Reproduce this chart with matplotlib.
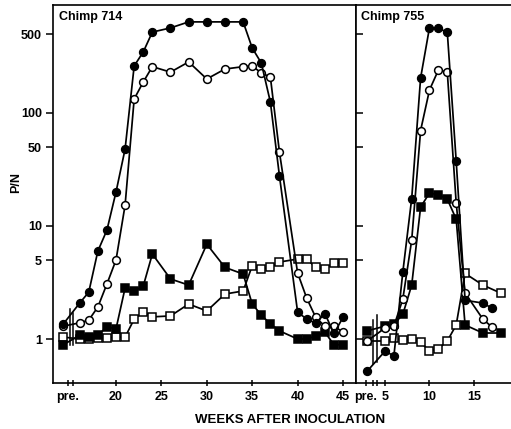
import matplotlib
matplotlib.use("Agg")
import matplotlib.pyplot as plt

plt.rcParams['font.family'] = ['Liberation Sans', 'DejaVu Sans']
plt.rcParams['font.weight'] = 'bold'
plt.rcParams['ytick.right'] = False
plt.rcParams['xtick.top'] = False

# ---------------- data ----------------
PRE_714 = 14.2      # x position used for the "pre." samples (chimp 714)
PRE_755 = 3.0       # x position used for the "pre." samples (chimp 755)

weeks_714 = [PRE_714, 16, 17, 18, 19, 20, 21, 22, 23, 24, 26, 28, 30, 32, 34,
             35, 36, 37, 38, 40, 41, 42, 43, 44, 45]
fc_714 = [1.36, 2.08, 2.6, 6.0, 9.2, 20, 48, 261, 347, 520, 566, 640, 640, 640, 640,
          376, 277, 125, 27.7, 1.73, 1.5, 1.38, 1.68, 1.12, 1.55]
oc_714 = [1.3, 1.39, 1.47, 1.92, 3.07, 5.0, 15.3, 133, 188, 257, 230, 283, 200, 245, 257,
          261, 226, 208, 45, 3.84, 2.3, 1.55, 1.3, 1.3, 1.15]
fs_714 = [0.89, 1.08, 1.04, 1.08, 1.28, 1.23, 2.83, 2.66, 2.94, 5.65, 3.4, 3.0, 6.9, 4.3, 3.76,
          2.04, 1.63, 1.36, 1.18, 1.0, 1.0, 1.06, 1.15, 0.89, 0.89]
os_714 = [1.04, 1.0, 1.0, 1.02, 1.02, 1.04, 1.04, 1.5, 1.73, 1.57, 1.6, 2.04, 1.77, 2.5, 2.66,
          4.45, 4.17, 4.3, 4.8, 5.1, 5.1, 4.3, 4.17, 4.7, 4.7]

weeks_755_c = [PRE_755, 5, 6, 7, 8, 9, 10, 11, 12, 13, 14, 16, 17]
fc_755 = [0.52, 0.78, 0.71, 3.9, 17.5, 204, 570, 560, 520, 37.6, 2.2, 2.08, 1.88]
oc_755 = [0.96, 1.25, 1.3, 2.25, 7.5, 70, 160, 240, 230, 16, 2.55, 1.5, 1.28]
weeks_755_s = [PRE_755, 5, 6, 7, 8, 9, 10, 11, 12, 13, 14, 16, 18]
fs_755 = [1.18, 1.3, 1.35, 1.65, 3.0, 14.7, 19.6, 18.9, 17.3, 11.5, 1.33, 1.13, 1.13]
os_755 = [0.96, 0.96, 1.02, 0.98, 1.0, 0.94, 0.78, 0.82, 0.96, 1.33, 3.8, 3.0, 2.55]

yticks = [1, 5, 10, 50, 100, 500]
yticklabels = ['1', '5', '10', '50', '100', '500']
xticks_714 = [14.71, 20, 25, 30, 35, 40, 45]
xlabels_714 = ['pre.', '20', '25', '30', '35', '40', '45']
xticks_755 = [2.85, 5, 10, 15]
xlabels_755 = ['pre.', '5', '10', '15']

# ---------------- figure ----------------
W, H = 511, 429
fig = plt.figure(figsize=(W / 100, H / 100), dpi=100)
ax1 = fig.add_axes([53 / W, 1 - 383 / H, 303 / W, 378 / H])
ax2 = fig.add_axes([356 / W, 1 - 383 / H, 155 / W, 378 / H])

LW = 1.25
MS = 5.6
MEW = 1.1


def series(ax, x, y, marker, filled, z):
    ax.plot(x, y, color='black', lw=LW, marker=marker, ms=MS if marker == 'o' else MS - 0.4,
            mfc='black' if filled else 'white', mec='black', mew=MEW, zorder=z, clip_on=False)


series(ax1, weeks_714, os_714, 's', False, 3)
series(ax1, weeks_714, fs_714, 's', True, 4)
series(ax1, weeks_714, oc_714, 'o', False, 5)
series(ax1, weeks_714, fc_714, 'o', True, 6)

series(ax2, weeks_755_s, os_755, 's', False, 3)
series(ax2, weeks_755_s, fs_755, 's', True, 4)
series(ax2, weeks_755_c, oc_755, 'o', False, 5)
series(ax2, weeks_755_c, fc_755, 'o', True, 6)

# break marks across the data
ax1.plot([14.93, 14.93], [0.88, 1.85], color='black', lw=1.1, zorder=7)
ax1.plot([15.28, 15.28], [0.88, 1.7], color='black', lw=1.1, zorder=7)
ax2.plot([3.65, 3.65], [0.6, 1.47], color='black', lw=1.1, zorder=7)
ax2.plot([4.1, 4.1], [0.63, 1.63], color='black', lw=1.1, zorder=7)

for ax in (ax1, ax2):
    ax.set_yscale('log')
    ax.set_ylim(0.408, 903)
    ax.set_yticks(yticks)
    ax.minorticks_off()
    ax.yaxis.set_ticks_position('left')
    ax.xaxis.set_ticks_position('bottom')
    for s in ax.spines.values():
        s.set_linewidth(1.2)

ax1.set_xlim(13.06, 46.43)
ax2.set_xlim(1.74, 19.16)

ax1.set_yticklabels(yticklabels, fontsize=9, fontweight='bold')
ax1.tick_params(axis='y', which='both', direction='out', length=5, width=1.1, pad=3)
ax2.set_yticklabels([])
ax2.tick_params(axis='y', which='both', direction='in', length=5, width=1.1)
ax2.spines['right'].set_visible(False)

ax1.set_xticks(xticks_714)
ax1.set_xticklabels(xlabels_714, fontsize=9, fontweight='bold')
ax1.set_xticks([15.26], minor=True)
ax2.set_xticks(xticks_755)
ax2.set_xticklabels(xlabels_755, fontsize=9, fontweight='bold')
ax2.set_xticks([3.65, 4.1], minor=True)
for ax in (ax1, ax2):
    ax.tick_params(axis='x', which='major', direction='inout', length=5, width=1.1, pad=3)
    ax.tick_params(axis='x', which='minor', direction='inout', length=5, width=1.1)

ax1.text(0.02, 0.985, 'Chimp 714', transform=ax1.transAxes, ha='left', va='top',
         fontsize=9, fontweight='bold')
ax2.text(0.03, 0.985, 'Chimp 755', transform=ax2.transAxes, ha='left', va='top',
         fontsize=9, fontweight='bold')

fig.text(16 / W, 1 - 182 / H, 'P/N', rotation=90, ha='center', va='center',
         fontsize=9, fontweight='bold')
fig.text(290 / W, 1 - 420 / H, 'WEEKS AFTER INOCULATION', ha='center', va='center',
         fontsize=9.5, fontweight='bold')

fig.savefig('out.png', dpi=100)
